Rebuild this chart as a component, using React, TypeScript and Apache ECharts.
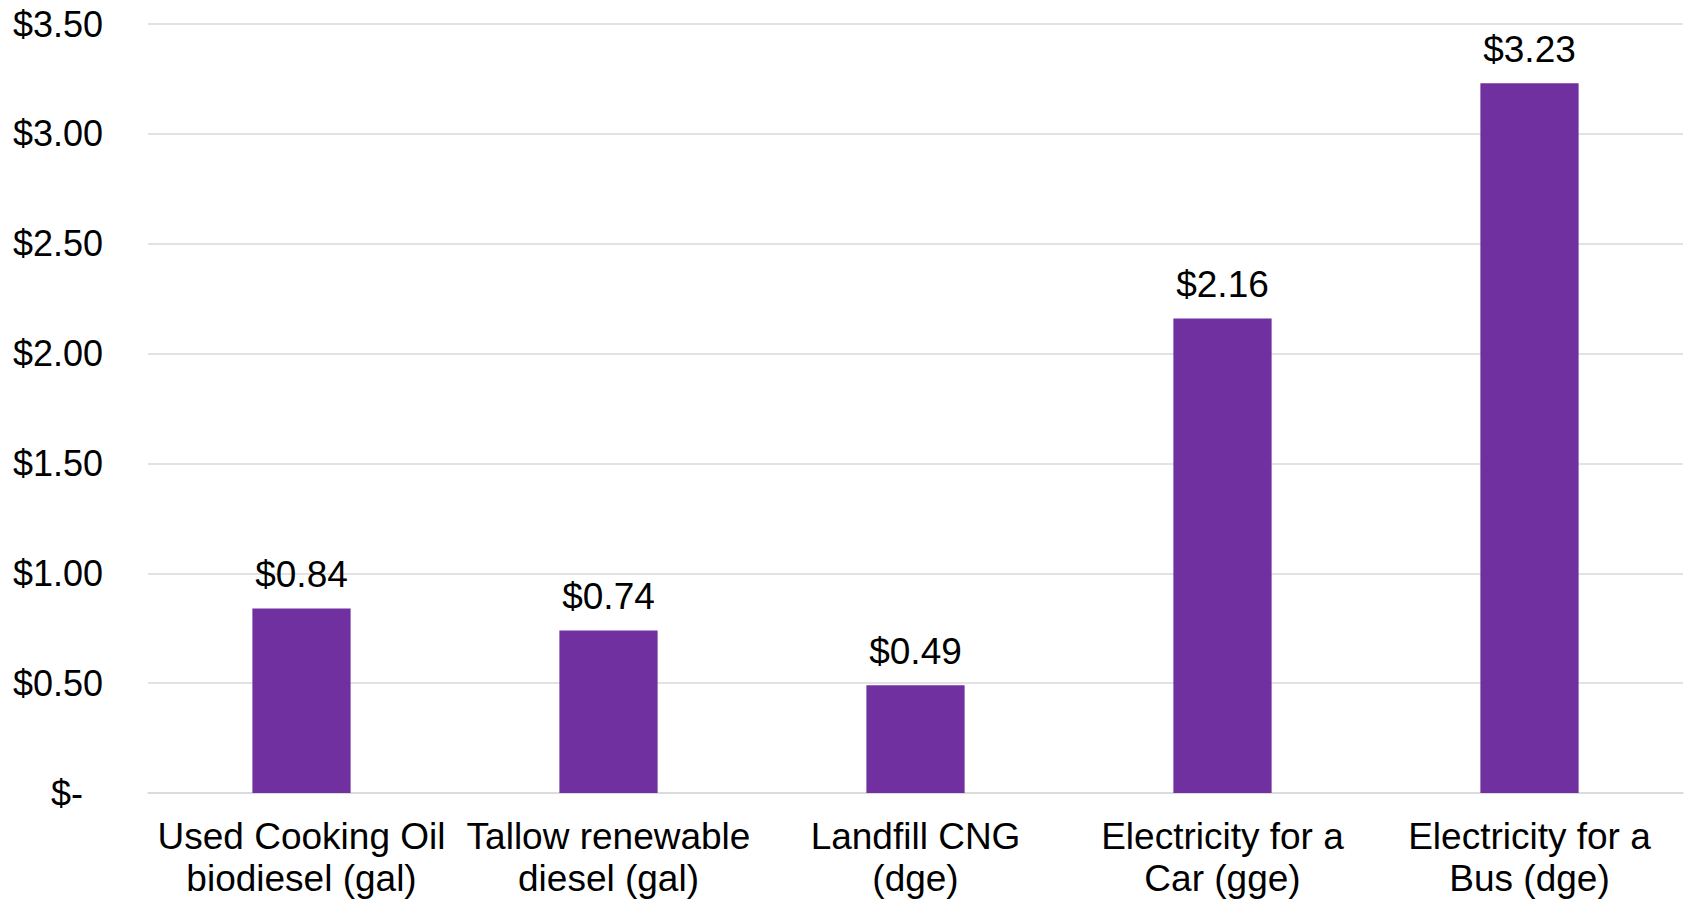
import React, { useEffect, useRef } from "react";
import * as echarts from "echarts";

const categories = [
  "Used Cooking Oil\nbiodiesel (gal)",
  "Tallow renewable\ndiesel (gal)",
  "Landfill CNG\n(dge)",
  "Electricity for a\nCar (gge)",
  "Electricity for a\nBus (dge)",
];
const values = [0.84, 0.74, 0.49, 2.16, 3.23];
const yMin = 0;
const yMax = 3.5;
const yStep = 0.5;

const FONT = "'Liberation Sans', Arial, sans-serif";

export default function App() {
  const ref = useRef<HTMLDivElement>(null);

  useEffect(() => {
    if (!ref.current) return;
    const chart = echarts.init(ref.current, null, { renderer: "svg" });
    chart.setOption({
      animation: false,
      backgroundColor: "#ffffff",
      textStyle: { fontFamily: FONT },
      grid: { left: 148, right: 4, top: 24, bottom: 108, containLabel: false },
      xAxis: {
        type: "category",
        data: categories,
        axisLine: { show: true, lineStyle: { color: "#d9d9d9", width: 1.5 } },
        axisTick: { show: false },
        axisLabel: {
          interval: 0,
          color: "#000",
          fontSize: 37,
          fontFamily: FONT,
          lineHeight: 42,
          margin: 22,
          overflow: "none",
        },
      },
      yAxis: {
        type: "value",
        min: yMin,
        max: yMax,
        interval: yStep,
        axisLine: { show: false },
        axisTick: { show: false },
        splitLine: { lineStyle: { color: "#d9d9d9", width: 1.5 } },
        axisLabel: {
          color: "#000",
          fontSize: 36,
          fontFamily: FONT,
          margin: 45,
          formatter: (v: number) =>
            v === 0 ? "{z|$-}" : "$" + v.toFixed(2),
          rich: {
            z: { fontSize: 36, fontFamily: FONT, color: "#000", padding: [0, 20, 0, 0] },
          },
        },
      },
      series: [
        {
          type: "bar",
          data: values,
          barWidth: "32%",
          itemStyle: { color: "#7030A0" },
          label: {
            show: true,
            position: "top",
            distance: 15,
            color: "#000",
            fontSize: 37,
            fontFamily: FONT,
            formatter: (p: any) => "$" + Number(p.value).toFixed(2),
          },
        },
      ],
    });
    return () => chart.dispose();
  }, []);

  return (
    <div
      ref={ref}
      style={{ position: "fixed", left: 0, top: 0, width: 1687, height: 901 }}
    />
  );
}
